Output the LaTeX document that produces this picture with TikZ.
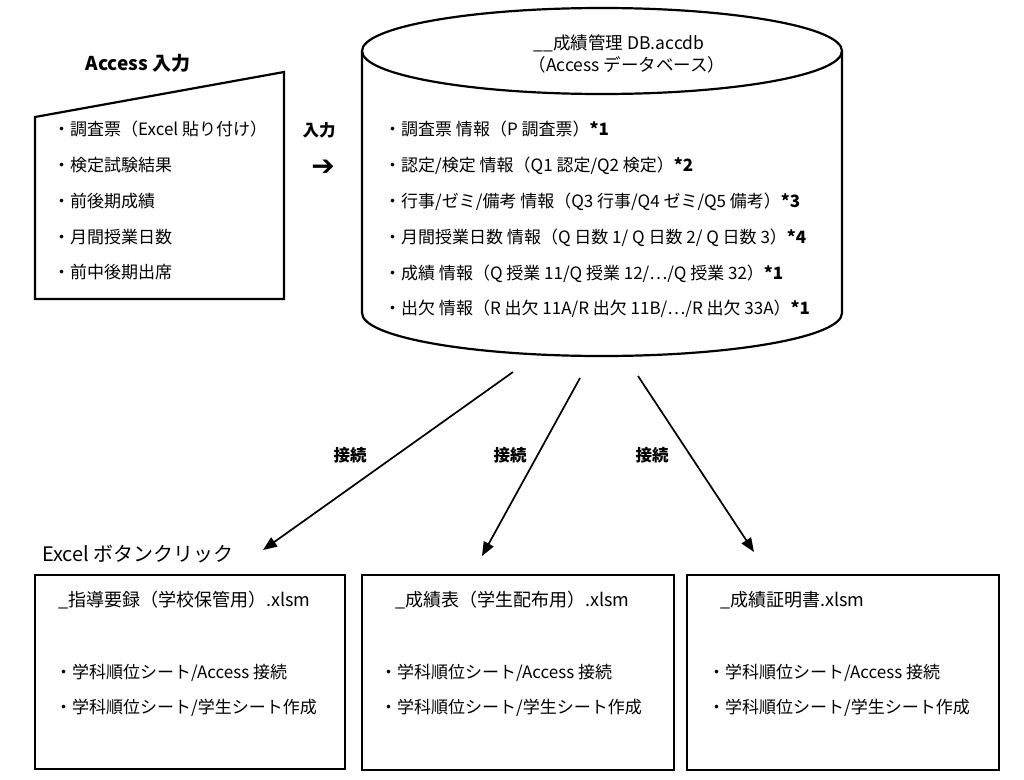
\documentclass[tikz,border=0pt]{standalone}
\usepackage{fontspec}
\setmainfont{Noto Sans CJK JP}
\newfontfamily\symfont{DejaVu Sans}
\usetikzlibrary{arrows.meta}
\tikzset{
  txt/.style={anchor=west,inner sep=0pt,font=\fontsize{17}{19}\selectfont,text height=0.85em,text depth=0.1em},
  ctxt/.style={txt,anchor=center},
  ttxt/.style={txt,font=\fontsize{18}{20}\selectfont},
  btxt/.style={txt,font=\fontsize{16.5}{18}\selectfont\bfseries},
  cbtxt/.style={btxt,anchor=center},
  shapeline/.style={line width=2.2pt,line join=miter},
  boxline/.style={line width=1.6pt},
  conn/.style={line width=1.7pt,-{Triangle[length=14pt,width=11pt]}},
}
\begin{document}
\begin{tikzpicture}[x=1pt,y=-1pt]
\useasboundingbox (0,0) rectangle (1024,779);
\fill[white] (0,0) rectangle (1024,779);

% Access input box
\draw[shapeline] (35,117) -- (284,72) -- (284,299) -- (35,299) -- cycle;
\node[cbtxt,font=\fontsize{19}{21}\selectfont\bfseries] (acctitle) at (138,67) {Access 入力};
\node[txt] (a1) at (53,132) {・調査票（Excel 貼り付け）};
\node[txt] (a2) at (53,168) {・検定試験結果};
\node[txt] (a3) at (53,204) {・前後期成績};
\node[txt] (a4) at (53,240) {・月間授業日数};
\node[txt] (a5) at (53,275) {・前中後期出席};

\node[cbtxt] (inlabel) at (319,133) {入力};
\node[anchor=center,inner sep=0pt,font=\symfont\fontsize{28}{28}\selectfont\bfseries] (inarrow) at (323,168) {➔};

% Database cylinder
\draw[shapeline] (602,51) ellipse [x radius=240, y radius=43];
\draw[shapeline] (362,51) -- (362,313) arc [start angle=180, end angle=0, x radius=240, y radius=43] -- (842,51);
\node[ctxt,font=\fontsize{17.5}{19}\selectfont] (dbt1) at (619,46) {\_\_成績管理 DB.accdb};
\node[ctxt,font=\fontsize{17.5}{19}\selectfont] (dbt2) at (627,68) {（Access データベース）};
\node[txt] (d1) at (384,132) {・調査票 情報（P 調査票）\textbf{*1}};
\node[txt] (d2) at (384,168) {・認定/検定 情報（Q1 認定/Q2 検定）\textbf{*2}};
\node[txt] (d3) at (384,204) {・行事/ゼミ/備考 情報（Q3 行事/Q4 ゼミ/Q5 備考）\textbf{*3}};
\node[txt] (d4) at (384,240) {・月間授業日数 情報（Q 日数 1/ Q 日数 2/ Q 日数 3）\textbf{*4}};
\node[txt] (d5) at (384,276) {・成績 情報（Q 授業 11/Q 授業 12/…/Q 授業 32）\textbf{*1}};
\node[txt] (d6) at (384,311) {・出欠 情報（R 出欠 11A/R 出欠 11B/…/R 出欠 33A）\textbf{*1}};

% connectors
\coordinate (s1) at (513,372);
\coordinate (s2) at (580,378);
\coordinate (s3) at (638,376);
\coordinate (e1) at (263,550);
\coordinate (e2) at (482,556);
\coordinate (e3) at (754,552);
\draw[conn] (s1) -- (e1);
\draw[conn] (s2) -- (e2);
\draw[conn] (s3) -- (e3);
\node[cbtxt] (l1) at (350,458) {接続};
\node[cbtxt] (l2) at (510,458) {接続};
\node[cbtxt] (l3) at (652,458) {接続};

% Excel boxes
\node[txt,font=\fontsize{20}{22}\selectfont] (xltitle) at (42,558) {Excel ボタンクリック};
\draw[boxline] (35,575) rectangle (345,769);
\draw[boxline] (362,575) rectangle (674,770);
\draw[boxline] (687,575) rectangle (999,770);
\node[ttxt] (b1t) at (58,603) {\_指導要録（学校保管用）.xlsm};
\node[txt] (b1a) at (55,675) {・学科順位シート/Access 接続};
\node[txt] (b1b) at (55,710) {・学科順位シート/学生シート作成};
\node[ttxt] (b2t) at (395,603) {\_成績表（学生配布用）.xlsm};
\node[txt] (b2a) at (380,675) {・学科順位シート/Access 接続};
\node[txt] (b2b) at (380,710) {・学科順位シート/学生シート作成};
\node[ttxt] (b3t) at (720,603) {\_成績証明書.xlsm};
\node[txt] (b3a) at (708,675) {・学科順位シート/Access 接続};
\node[txt] (b3b) at (708,710) {・学科順位シート/学生シート作成};
\end{tikzpicture}
\end{document}
